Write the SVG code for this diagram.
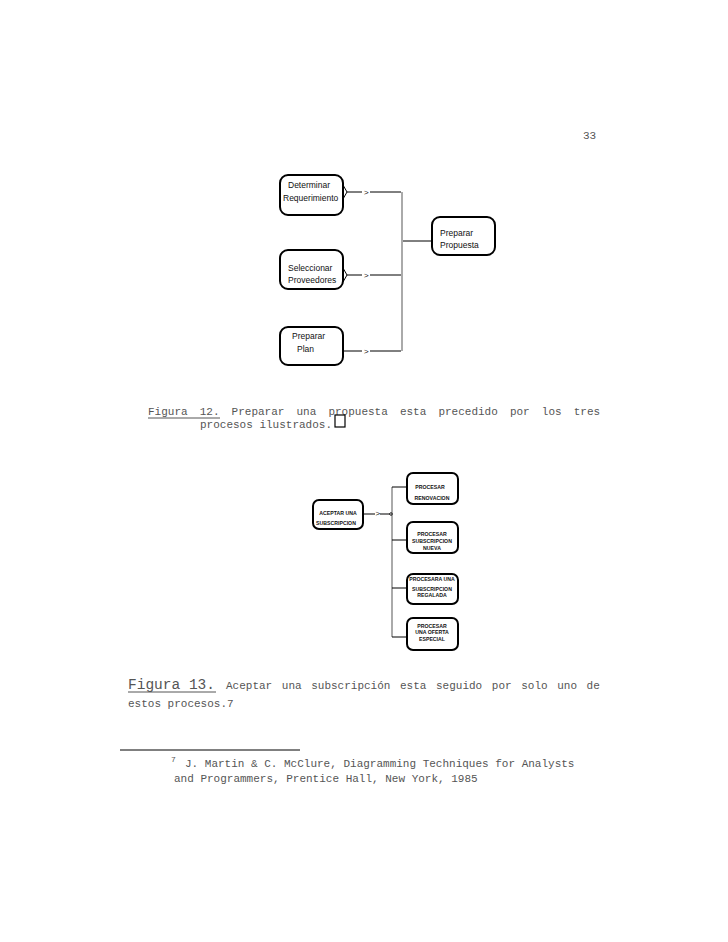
<svg xmlns="http://www.w3.org/2000/svg" width="728" height="942" viewBox="0 0 728 942">
<style>
.page{font-family:"Liberation Mono","Courier New",monospace;font-size:11px;fill:#555}
.box{fill:#fff;stroke:#000;stroke-width:2}
.t1{font-family:"Liberation Sans",Arial,sans-serif;font-size:8.5px;fill:#111}
.t2{font-family:"Liberation Sans",Arial,sans-serif;font-size:5.2px;font-weight:bold;fill:#111;text-anchor:middle}
.ln{stroke:#000;stroke-width:1;fill:none}
.vl{stroke:#aaa;stroke-width:2;fill:none}
.ar{font-family:"Liberation Sans",Arial,sans-serif;font-size:8px;fill:#111}
</style>
<rect width="728" height="942" fill="#fff"/>
<text class="page" x="583" y="139">33</text>

<!-- Figure 12 -->
<g id="connectors1">
<line class="vl" x1="402" y1="192" x2="402" y2="351"/>
<polyline class="ln" points="343,185 347,192 343,199"/>
<line class="ln" x1="347" y1="192" x2="362" y2="192"/>
<line class="ln" x1="370" y1="192" x2="401" y2="192"/>
<text class="ar" x="364" y="195">&gt;</text>
<polyline class="ln" points="343,268 347,275 343,282"/>
<line class="ln" x1="347" y1="275" x2="362" y2="275"/>
<line class="ln" x1="370" y1="275" x2="401" y2="275"/>
<text class="ar" x="364" y="278">&gt;</text>
<line class="ln" x1="343" y1="351" x2="362" y2="351"/>
<line class="ln" x1="370" y1="351" x2="401" y2="351"/>
<text class="ar" x="364" y="354">&gt;</text>
<line class="ln" x1="403" y1="241" x2="432" y2="241"/>
</g>
<g id="determinar">
<rect class="box" x="280" y="175" width="63" height="40" rx="8"/>
<text class="t1" x="288" y="188">Determinar</text>
<text class="t1" x="283" y="201">Requerimiento</text>
</g>
<g id="seleccionar">
<rect class="box" x="280" y="250" width="63" height="39" rx="8"/>
<text class="t1" x="288" y="271">Seleccionar</text>
<text class="t1" x="288" y="283">Proveedores</text>
</g>
<g id="plan">
<rect class="box" x="280" y="327" width="63" height="38" rx="8"/>
<text class="t1" x="292" y="339">Preparar</text>
<text class="t1" x="297" y="352">Plan</text>
</g>
<g id="propuesta">
<rect class="box" x="432" y="217" width="63" height="38" rx="8"/>
<text class="t1" x="440" y="236">Preparar</text>
<text class="t1" x="440" y="248">Propuesta</text>
</g>

<g id="caption12" class="page">
<text x="148" y="415">Figura</text>
<text x="199.7" y="415">12.</text>
<line x1="148" y1="418" x2="220" y2="418" stroke="#555" stroke-width="1"/>
<text x="231.6" y="415">Preparar</text>
<text x="296.5" y="415">una</text>
<text x="328.4" y="415">propuesta</text>
<text x="399.9" y="415">esta</text>
<text x="438.4" y="415">precedido</text>
<text x="509.9" y="415">por</text>
<text x="541.8" y="415">los</text>
<text x="573.7" y="415">tres</text>
<text x="200" y="428">procesos ilustrados.</text>
<rect x="335" y="415" width="10" height="12" fill="none" stroke="#000" stroke-width="1.2"/>
</g>

<!-- Figure 13 -->
<g id="connectors2">
<line class="vl" x1="392" y1="487" x2="392" y2="637" stroke-width="1.5"/>
<line class="ln" x1="363" y1="514" x2="375" y2="514"/>
<line class="ln" x1="380" y1="514" x2="390" y2="514"/>
<text class="ar" x="375.5" y="516" font-size="5">&gt;</text>
<circle cx="391" cy="514" r="1.3" fill="none" stroke="#000" stroke-width="0.8"/>
<line class="ln" x1="392" y1="487" x2="407" y2="487"/>
<line class="ln" x1="392" y1="540" x2="407" y2="540"/>
<line class="ln" x1="392" y1="588" x2="407" y2="588"/>
<line class="ln" x1="392" y1="637" x2="407" y2="637"/>
</g>
<g id="aceptar">
<rect class="box" x="313" y="500" width="50" height="29" rx="6"/>
<text class="t2" x="338" y="515">ACEPTAR UNA</text>
<text class="t2" x="336" y="525">SUBSCRIPCION</text>
</g>
<g id="renovacion">
<rect class="box" x="407" y="473" width="51" height="31" rx="6"/>
<text class="t2" x="430" y="489">PROCESAR</text>
<text class="t2" x="432" y="500">RENOVACION</text>
</g>
<g id="nueva">
<rect class="box" x="407" y="522" width="51" height="31" rx="6"/>
<text class="t2" x="432" y="536">PROCESAR</text>
<text class="t2" x="432" y="543">SUBSCRIPCION</text>
<text class="t2" x="432" y="550">NUEVA</text>
</g>
<g id="regalada">
<rect class="box" x="407" y="574" width="51" height="30" rx="6"/>
<text class="t2" x="432" y="581">PROCESARA UNA</text>
<text class="t2" x="432" y="591">SUBSCRIPCION</text>
<text class="t2" x="432" y="597">REGALADA</text>
</g>
<g id="oferta">
<rect class="box" x="407" y="618" width="51" height="32" rx="6"/>
<text class="t2" x="432" y="628">PROCESAR</text>
<text class="t2" x="432" y="634">UNA OFERTA</text>
<text class="t2" x="432" y="641">ESPECIAL</text>
</g>

<g id="caption13" class="page">
<text x="128" y="689" font-size="14.5">Figura 13.</text>
<line x1="128" y1="692" x2="216" y2="692" stroke="#555" stroke-width="1"/>
<text x="226" y="689">Aceptar</text>
<text x="281.8" y="689">una</text>
<text x="311.2" y="689">subscripción</text>
<text x="400" y="689">esta</text>
<text x="436" y="689">seguido</text>
<text x="491.8" y="689">por</text>
<text x="521.2" y="689">solo</text>
<text x="557.2" y="689">uno</text>
<text x="586.6" y="689">de</text>
<text x="128" y="707">estos procesos.7</text>
</g>

<g id="footnote" class="page">
<line x1="120" y1="750" x2="300" y2="750" stroke="#000" stroke-width="1"/>
<text x="171" y="762" font-size="8">7</text>
<text x="185" y="767">J. Martin &amp; C. McClure, Diagramming Techniques for Analysts</text>
<text x="174" y="782">and Programmers, Prentice Hall, New York, 1985</text>
</g>
</svg>
